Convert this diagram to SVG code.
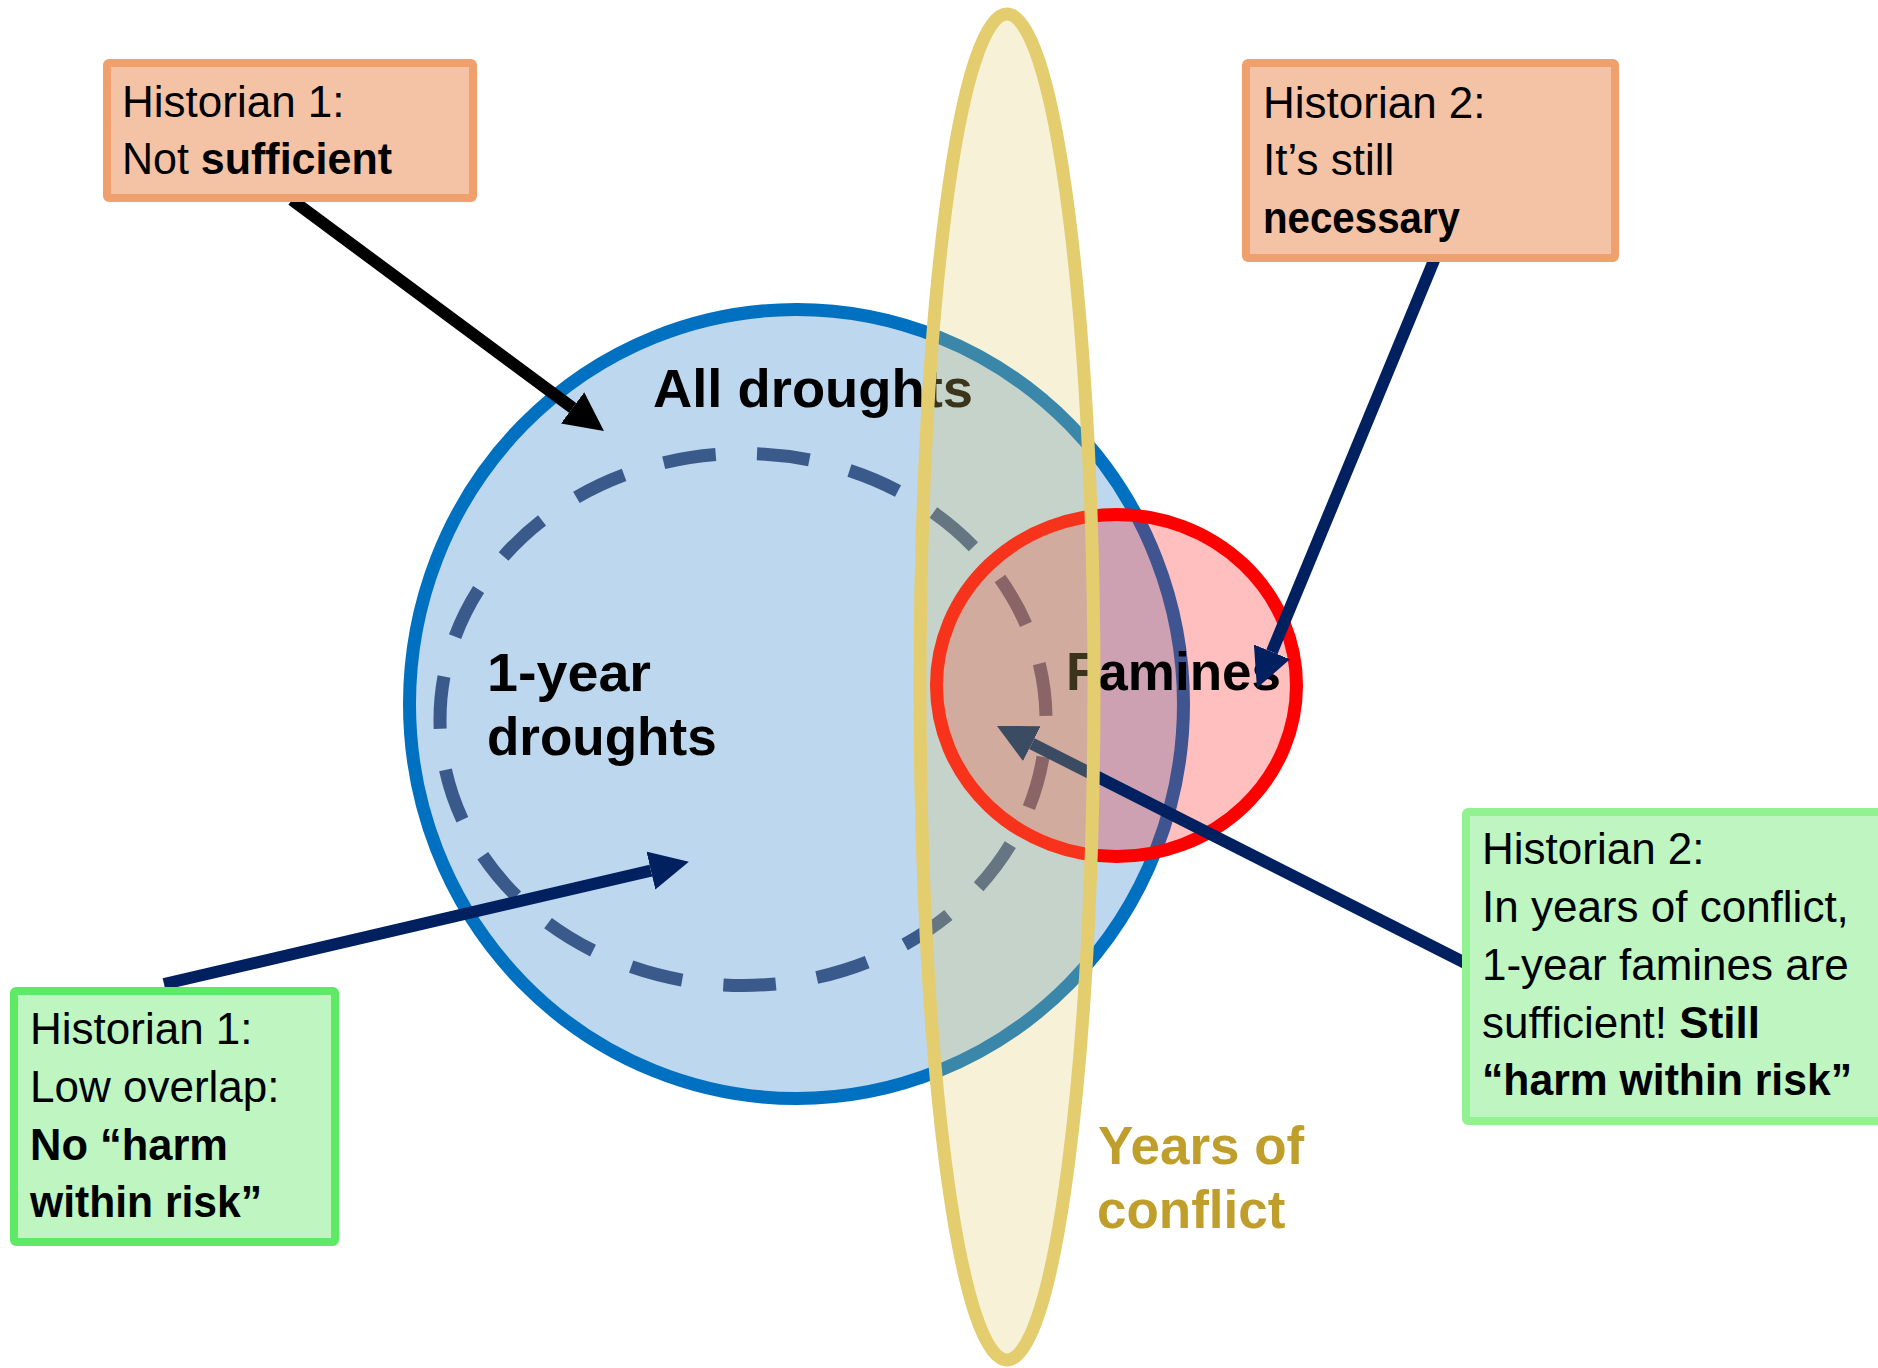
<svg xmlns="http://www.w3.org/2000/svg" width="1878" height="1368" viewBox="0 0 1878 1368">
  <style>
    .txt { font-family: "Liberation Sans", Arial, sans-serif; font-size: 44px; fill: #000000; }
    .b { font-weight: bold; }
    .label { font-family: "Liberation Sans", Arial, sans-serif; font-size: 53px; font-weight: bold; fill: #000000; }
    .orange { fill: #F4C3A5; stroke: #F0A06C; stroke-width: 8; }
    .green { fill: #BEF5C1; stroke: #5FEA66; stroke-width: 8; }
    .arrow { fill: none; stroke-width: 12; stroke-linecap: butt; }
  </style>
  <defs>
    <marker id="head-black" markerUnits="userSpaceOnUse" viewBox="0 0 39 39" markerWidth="39" markerHeight="39" refX="0" refY="19.5" orient="auto">
      <path d="M0,0 L39,19.5 L0,39 Z" fill="#000000"/>
    </marker>
    <marker id="head-navy" markerUnits="userSpaceOnUse" viewBox="0 0 39 39" markerWidth="39" markerHeight="39" refX="0" refY="19.5" orient="auto">
      <path d="M0,0 L39,19.5 L0,39 Z" fill="#002060"/>
    </marker>
  </defs>

  <rect width="1878" height="1368" fill="#FFFFFF"/>

  <g id="all-droughts">
    <ellipse cx="796.5" cy="704" rx="387" ry="394.5" fill="#BDD7EE" stroke="#0070C0" stroke-width="13"/>
    <text class="label" x="653" y="407" textLength="320" lengthAdjust="spacingAndGlyphs">All droughts</text>
  </g>

  <g id="one-year-droughts">
    <path d="M743,453.5 A303,266 0 1,1 743,985.5 A303,266 0 1,1 743,453.5 Z" pathLength="1900" fill="none" stroke="#3B5A8C" stroke-width="13" stroke-dasharray="56 44" stroke-dashoffset="85"/>
    <text class="label" x="487" y="691" textLength="164" lengthAdjust="spacingAndGlyphs">1-year</text>
    <text class="label" x="487" y="755">droughts</text>
  </g>

  <g id="famines">
    <ellipse cx="1116.5" cy="685.5" rx="180" ry="171" fill="#FF0000" fill-opacity="0.25" stroke="#FF0000" stroke-width="13"/>
    <text class="label" x="1066" y="690">Famines</text>
  </g>

  <g id="connectors">
    <line class="arrow" x1="292" y1="200" x2="572.6" y2="407.9" stroke="#000000" stroke-width="14" marker-end="url(#head-black)"/>
    <line class="arrow" x1="1435" y1="258" x2="1271.9" y2="651.9" stroke="#002060" marker-end="url(#head-navy)"/>
    <line class="arrow" x1="164" y1="984" x2="650.9" y2="870.6" stroke="#002060" marker-end="url(#head-navy)"/>
    <line class="arrow" x1="1470" y1="965.4" x2="1031.8" y2="743.6" stroke="#002060" marker-end="url(#head-navy)"/>
  </g>

  <g id="years-of-conflict">
    <ellipse cx="1007" cy="687" rx="87" ry="673" fill="#E0C969" fill-opacity="0.26" stroke="#E3CD6E" stroke-width="13"/>
    <text class="label" x="1098" y="1164" style="fill:#BF9E2C">Years of</text>
    <text class="label" x="1097" y="1228" style="fill:#BF9E2C">conflict</text>
  </g>

  <g id="historian1-not-sufficient">
    <rect class="orange" x="107" y="63" width="366" height="135" rx="2"/>
    <text class="txt" x="122" y="117">Historian 1:</text>
    <text class="txt" x="122" y="174" textLength="270" lengthAdjust="spacingAndGlyphs">Not <tspan class="b">sufficient</tspan></text>
  </g>

  <g id="historian2-necessary">
    <rect class="orange" x="1246" y="63" width="369" height="195" rx="2"/>
    <text class="txt" x="1263" y="118">Historian 2:</text>
    <text class="txt" x="1263" y="175">It’s still</text>
    <text class="txt b" x="1263" y="233" textLength="197" lengthAdjust="spacingAndGlyphs">necessary</text>
  </g>

  <g id="historian1-low-overlap">
    <rect class="green" x="14" y="991" width="321" height="251" rx="2"/>
    <text class="txt" x="30" y="1044">Historian 1:</text>
    <text class="txt" x="30" y="1102">Low overlap:</text>
    <text class="txt b" x="30" y="1160" textLength="198" lengthAdjust="spacingAndGlyphs">No “harm</text>
    <text class="txt b" x="30" y="1217" textLength="232" lengthAdjust="spacingAndGlyphs">within risk”</text>
  </g>

  <g id="historian2-sufficient">
    <rect class="green" x="1466" y="812" width="440" height="309" rx="2" style="stroke:#92F292"/>
    <text class="txt" x="1482" y="864">Historian 2:</text>
    <text class="txt" x="1482" y="922">In years of conflict,</text>
    <text class="txt" x="1482" y="980">1-year famines are</text>
    <text class="txt" x="1482" y="1038">sufficient! <tspan class="b">Still</tspan></text>
    <text class="txt b" x="1482" y="1095" textLength="370" lengthAdjust="spacingAndGlyphs">“harm within risk”</text>
  </g>
</svg>
